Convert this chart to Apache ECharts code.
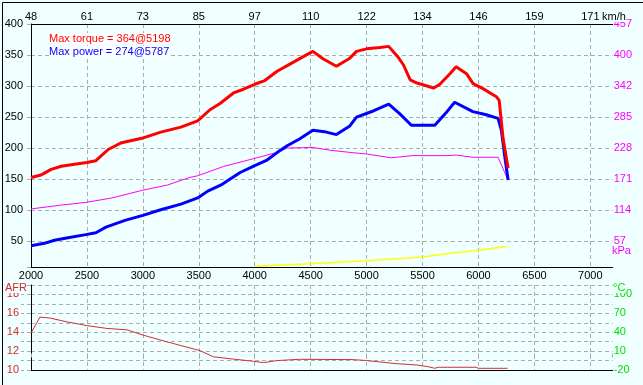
<!DOCTYPE html>
<html><head><meta charset="utf-8">
<script src="https://cdn.jsdelivr.net/npm/echarts@6/dist/echarts.min.js"></script>
<style>html,body{margin:0;padding:0;background:#F0FFFF}#c{width:643px;height:385px}</style>
</head><body><div id="c"></div>
<script>
// ---- tick labels ----
const rpmLabels = ['2000','2500','3000','3500','4000','4500','5000','5500','6000','6500','7000'];
const kmhLabels = ['48','61','73','85','97','110','122','134','146','159','171'];
const leftLabels = ['50','100','150','200','250','300','350','400'];
const kpaLabels = ['57','114','171','228','285','342','400','457'];
const afrLabels = ['10','12','14','16','18'];
const tempLabels = ['-20','10','40','70','100'];

// ---- series ----
const torqueRpm = [2000,2090,2120,2180,2270,2420,2500,2580,2690,2810,2990,3160,3340,3490,3600,3690,3810,3900,4000,4090,4200,4310,4430,4520,4610,4730,4850,4910,5000,5118,5198,5280,5330,5390,5450,5600,5655,5745,5800,5893,5952,6040,6160,6185,6220,6250,6265];
const torqueVal = [153,157,160,166,171,175,177,180,198,209,216,226,234,244,262,272,289,295,303,309,324,335,347,356,344,332,345,356,360,362,364,347,334,310,305,297,303,320,331,320,304,296,283,277,216,184,168];

const powerRpm = [2000,2120,2210,2330,2490,2580,2670,2840,3000,3160,3340,3490,3580,3700,3760,3870,4000,4110,4200,4290,4400,4520,4640,4730,4850,4910,5060,5198,5300,5400,5610,5710,5787,5950,6070,6175,6205,6235,6265];
const powerVal = [43,47,52,56,61,64,73,84,92,101,110,120,131,141,148,161,172,181,193,204,215,229,226,222,236,250,260,271,255,237,237,257,274,259,254,248,229,187,149];

const kpaRpm = [2000,2270,2490,2720,2990,3220,3420,3490,3720,4000,4200,4290,4520,4670,4850,5000,5220,5410,5710,5800,5950,6175,6265];
const kpaVal = [117,124,129,137,151,161,175,178,195,210,221,229,230,225,221,218,211,215,215,216,212,212,170];

const yellowRpm = [4000,4500,5000,5500,5750,6000,6250];
const yellowVal = [10,14,19,25,31,36,42];

const afrRpm = [2000,2080,2170,2320,2500,2680,2860,3000,3210,3510,3630,3810,3990,4080,4200,4400,4880,5000,5120,5270,5450,5550,5610,5640,5980,6000,6260];
const afrVal = [13.9,15.6,15.5,15.1,14.7,14.4,14.25,13.7,13.0,12.05,11.4,11.15,10.92,10.78,11.0,11.13,11.1,11.0,10.85,10.67,10.53,10.35,10.18,10.29,10.29,10.18,10.18];

const zip = (a, b) => a.map((x, i) => [x, b[i]]);

const GRID = '#ABABAB';
const FONT = 'Liberation Sans';
const dash = {color: GRID, type: [4, 3], width: 1};

function rpmFmt(v) {
  const i = Math.round((v - 2000) / 500);
  if (Math.abs(v - 2000 - i * 500) > 1) return '';
  return rpmLabels[i] || '';
}
function kmhFmt(v) {
  const i = Math.round((v - 2000) / 500);
  if (Math.abs(v - 2000 - i * 500) > 1) return '';
  return kmhLabels[i] || '';
}
function leftFmt(v) {
  const i = Math.round(v / 50);
  if (Math.abs(v - i * 50) > 0.5) return '';
  return leftLabels[i - 1] || '';
}
const KSTEP = 400 / 7;
function kpaFmt(v) {
  const i = Math.round(v / KSTEP);
  if (Math.abs(v - i * KSTEP) > 0.5) return '';
  return kpaLabels[i - 1] || '';
}
function afrFmt(v) {
  const d = Math.round(v - 10);
  if (d % 2 !== 0) return '';
  return afrLabels[d / 2] || '';
}
function tempFmt(v) {
  const d = Math.round(v + 20);
  if (d % 30 !== 0) return '';
  return tempLabels[d / 30] || '';
}

const LMIN = 8.4, LMAX = 400;
const chart = echarts.init(document.getElementById('c'), null, {renderer: 'canvas'});
chart.setOption({
  backgroundColor: '#F0FFFF',
  animation: false,
  textStyle: {fontFamily: FONT},
  grid: [
    {left: 31, top: 24, width: 581.7, height: 243.3},
    {left: 31, top: 285, width: 581.7, height: 85}
  ],
  xAxis: [
    {type: 'value', gridIndex: 0, position: 'bottom', min: 2000, max: 7200, interval: 500,
     axisLine: {show: true, onZero: false, lineStyle: {color: '#000', width: 1}},
     axisTick: {show: false},
     axisLabel: {formatter: rpmFmt, color: '#000', fontSize: 11, fontFamily: FONT, margin: 3, showMaxLabel: true},
     splitLine: {show: true, lineStyle: dash, showMinLine: false, showMaxLine: false}},
    {type: 'value', gridIndex: 0, position: 'top', min: 2000, max: 7200, interval: 500,
     axisLine: {show: true, onZero: false, lineStyle: {color: '#000', width: 1}},
     axisTick: {show: false},
     axisLabel: {formatter: kmhFmt, color: '#000', fontSize: 11, fontFamily: FONT, margin: 2},
     splitLine: {show: false}},
    {type: 'value', gridIndex: 1, position: 'bottom', min: 2000, max: 7200, interval: 500,
     axisLine: {show: true, onZero: false, lineStyle: {color: '#000', width: 1}},
     axisTick: {show: false},
     axisLabel: {show: false},
     splitLine: {show: true, lineStyle: dash, showMinLine: false, showMaxLine: false}},
    {type: 'value', gridIndex: 1, position: 'top', min: 2000, max: 7200, interval: 500,
     axisLine: {show: false},
     axisTick: {show: true, length: 4, lineStyle: dash},
     axisLabel: {show: false},
     splitLine: {show: false}}
  ],
  yAxis: [
    {type: 'value', gridIndex: 0, position: 'left', min: LMIN, max: LMAX, minInterval: 50, maxInterval: 50,
     axisLine: {show: true, onZero: false, lineStyle: {color: '#000', width: 1}},
     axisTick: {show: true, length: 6, lineStyle: dash},
     axisLabel: {formatter: leftFmt, color: '#000', fontSize: 11, fontFamily: FONT, margin: 8},
     splitLine: {show: true, lineStyle: dash, showMinLine: false}},
    {type: 'value', gridIndex: 0, position: 'right', min: LMIN * 8 / 7, max: LMAX * 8 / 7, minInterval: KSTEP, maxInterval: KSTEP,
     axisLine: {show: false}, axisTick: {show: false},
     axisLabel: {formatter: kpaFmt, color: '#FF00FF', fontSize: 11, fontFamily: FONT, margin: 1},
     splitLine: {show: false}},
    {type: 'value', gridIndex: 1, position: 'left', min: 10, max: 19, interval: 1,
     axisLine: {show: true, onZero: false, lineStyle: {color: '#000', width: 1}},
     axisTick: {show: true, length: 10, lineStyle: dash},
     axisLabel: {formatter: afrFmt, color: '#D42A2A', fontSize: 11, fontFamily: FONT, margin: 12},
     splitLine: {show: true, lineStyle: dash, showMinLine: false}},
    {type: 'value', gridIndex: 1, position: 'right', min: -20, max: 115, interval: 15,
     axisLine: {show: false}, axisTick: {show: false},
     axisLabel: {formatter: tempFmt, color: '#00E000', fontSize: 11, fontFamily: FONT, margin: 1},
     splitLine: {show: false}}
  ],
  series: [
    {type: 'line', name: 'kPa', xAxisIndex: 0, yAxisIndex: 1, data: zip(kpaRpm, kpaVal), showSymbol: false,
     lineStyle: {color: '#FF00FF', width: 1}, z: 2},
    {type: 'line', name: 'aux', xAxisIndex: 0, yAxisIndex: 0, data: zip(yellowRpm, yellowVal), showSymbol: false,
     lineStyle: {color: '#FFFF00', width: 1.5}, z: 2},
    {type: 'line', name: 'Power', xAxisIndex: 0, yAxisIndex: 0, data: zip(powerRpm, powerVal), showSymbol: false,
     lineStyle: {color: '#0000FF', width: 3}, z: 3},
    {type: 'line', name: 'Torque', xAxisIndex: 0, yAxisIndex: 0, data: zip(torqueRpm, torqueVal), showSymbol: false,
     lineStyle: {color: '#FF0000', width: 3}, z: 4},
    {type: 'line', name: 'AFR', xAxisIndex: 2, yAxisIndex: 2, data: zip(afrRpm, afrVal), showSymbol: false,
     lineStyle: {color: '#D03030', width: 1}, z: 3}
  ],
  graphic: [
    {type: 'text', left: 49, top: 33, z: 100,
     style: {text: 'Max torque = 364@5198', fill: '#FF0000', font: '11px "Liberation Sans"', backgroundColor: '#FFFFFF'}},
    {type: 'text', left: 49, top: 46, z: 100,
     style: {text: 'Max power = 274@5787', fill: '#0000FF', font: '11px "Liberation Sans"', backgroundColor: '#FFFFFF'}},
    {type: 'text', left: 602, top: 11, z: 100,
     style: {text: 'km/h', fill: '#000', font: '11px "Liberation Sans"', backgroundColor: '#F0FFFF'}},
    {type: 'text', left: 612, top: 245, z: 100,
     style: {text: 'kPa', fill: '#FF00FF', font: '11px "Liberation Sans"'}},
    {type: 'text', left: 5, top: 282, z: 100,
     style: {text: 'AFR', fill: '#D42A2A', font: '11px "Liberation Sans"', backgroundColor: '#F0FFFF'}},
    {type: 'text', left: 613, top: 282, z: 100,
     style: {text: '°C', fill: '#00E000', font: '11px "Liberation Sans"', backgroundColor: '#F0FFFF'}},
    {type: 'rect', left: 0, top: 0, z: 100,
     shape: {x: 0.5, y: 0.5, width: 642, height: 384},
     style: {fill: 'none', stroke: '#000', lineWidth: 1}}
  ]
});
</script>
</body></html>
